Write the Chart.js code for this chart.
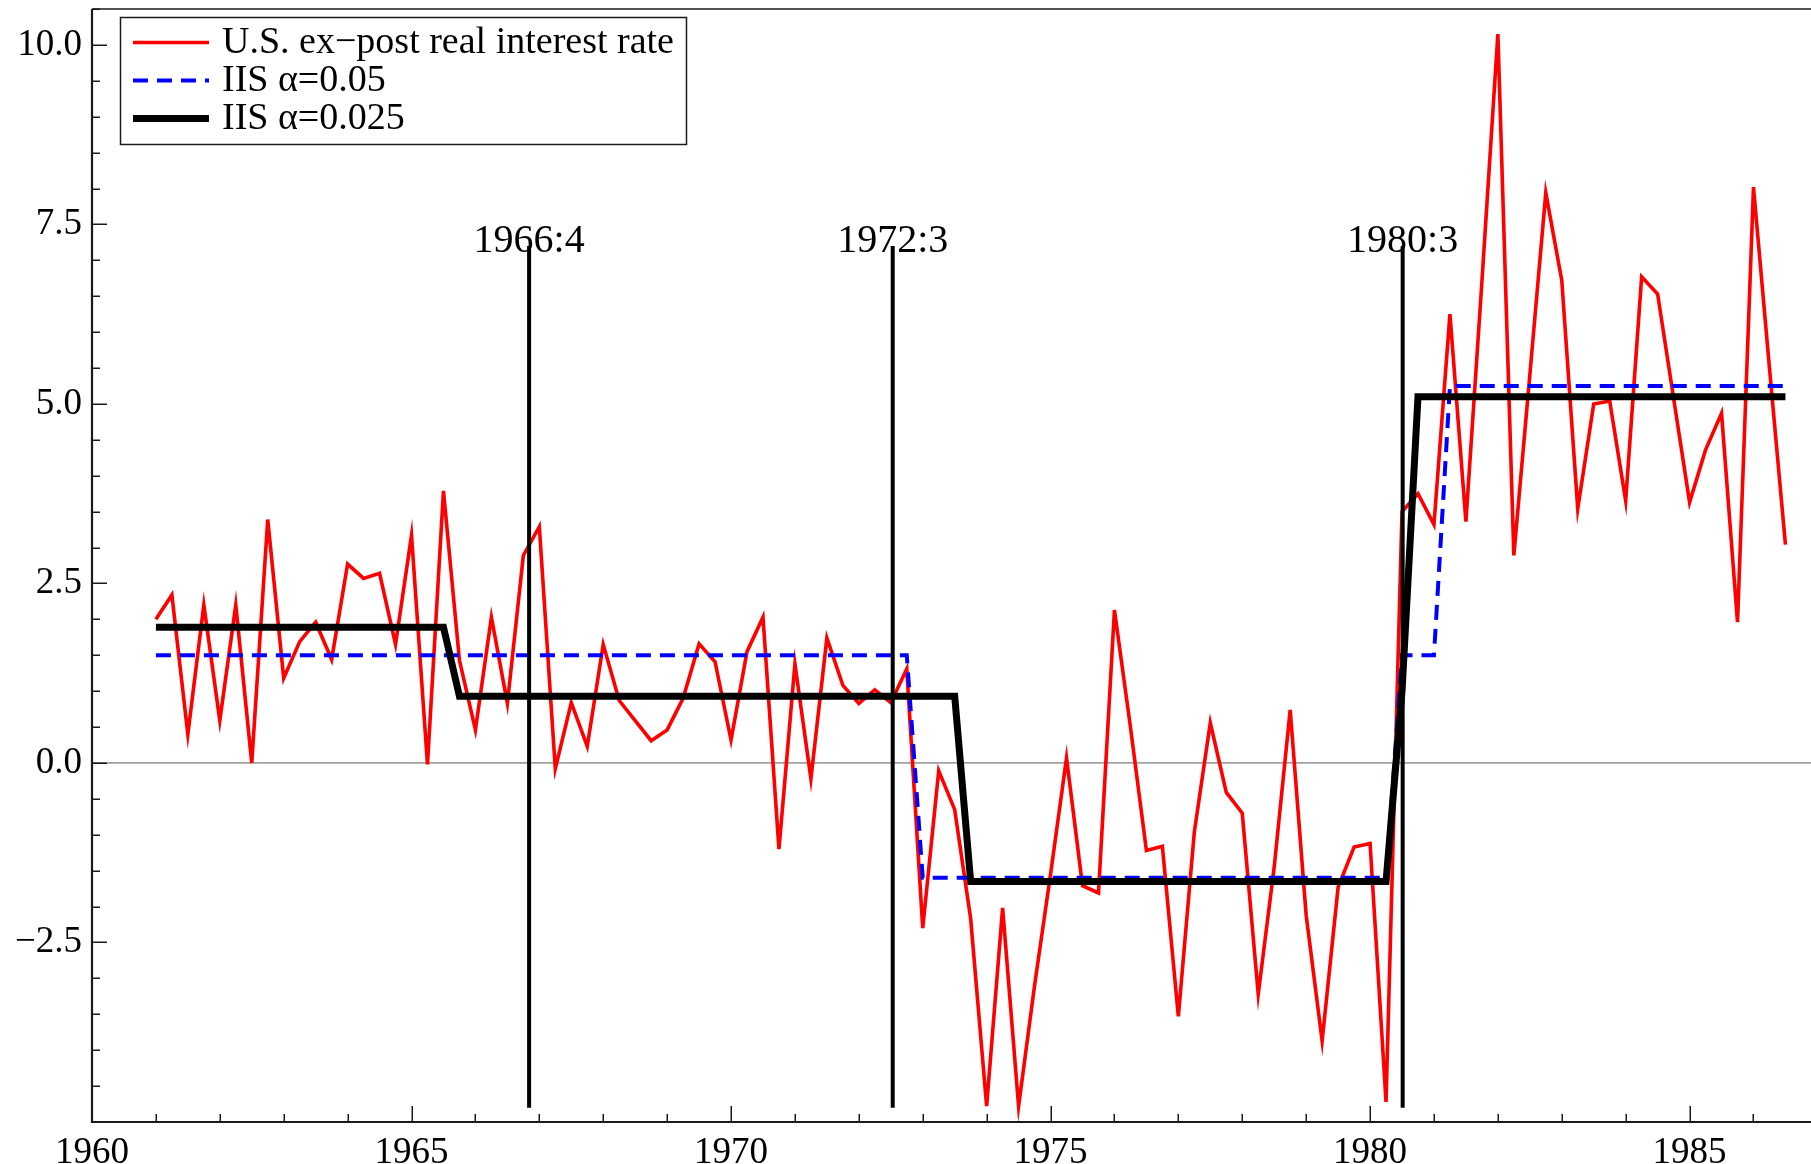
<!DOCTYPE html>
<html>
<head>
<meta charset="utf-8">
<script src="https://cdn.jsdelivr.net/npm/chart.js@4.4.1/dist/chart.umd.min.js"></script>
<style>
  html, body { margin: 0; padding: 0; background: #fff; }
  #wrap { width: 1811px; height: 1164px; }
</style>
</head>
<body>
<div id="wrap"><canvas id="c" width="1811" height="1164"></canvas></div>
<script>
// ---------------- DATA ----------------
const startYear = 1961;          // first observation 1961:1, quarterly
const seriesLabels = ['U.S. ex\u2212post real interest rate', 'IIS \u03b1=0.05', 'IIS \u03b1=0.025'];

const realRate = [
  2.00, 2.34, 0.40, 2.20, 0.59, 2.20, 0.00, 3.39, 1.18, 1.69,
  1.96, 1.44, 2.77, 2.57, 2.64, 1.65, 3.17, -0.02, 3.79, 1.43,
  0.46, 2.03, 0.83, 2.89, 3.29, -0.08, 0.84, 0.23, 1.65, 0.87,
  0.59, 0.31, 0.46, 0.90, 1.66, 1.41, 0.32, 1.55, 2.03, -1.20,
  1.38, -0.22, 1.74, 1.08, 0.83, 1.02, 0.84, 1.31, -2.30, -0.11,
  -0.65, -2.17, -4.78, -2.02, -4.78, -3.10, -1.55, 0.07, -1.71, -1.81,
  2.13, 0.50, -1.22, -1.16, -3.53, -0.96, 0.56, -0.41, -0.70, -3.22,
  -1.45, 0.74, -2.12, -3.87, -1.73, -1.17, -1.12, -4.72, 3.50, 3.75,
  3.32, 6.25, 3.36, 6.70, 10.15, 2.89, 5.40, 7.94, 6.72, 3.54,
  5.00, 5.04, 3.65, 6.77, 6.53, 5.08, 3.63, 4.36, 4.87, 1.96,
  8.02, 5.50, 3.04
];

const iis05 = [
  1.5, 1.5, 1.5, 1.5, 1.5, 1.5, 1.5, 1.5, 1.5, 1.5,
  1.5, 1.5, 1.5, 1.5, 1.5, 1.5, 1.5, 1.5, 1.5, 1.5,
  1.5, 1.5, 1.5, 1.5, 1.5, 1.5, 1.5, 1.5, 1.5, 1.5,
  1.5, 1.5, 1.5, 1.5, 1.5, 1.5, 1.5, 1.5, 1.5, 1.5,
  1.5, 1.5, 1.5, 1.5, 1.5, 1.5, 1.5, 1.5, -1.6, -1.6,
  -1.6, -1.6, -1.6, -1.6, -1.6, -1.6, -1.6, -1.6, -1.6, -1.6,
  -1.6, -1.6, -1.6, -1.6, -1.6, -1.6, -1.6, -1.6, -1.6, -1.6,
  -1.6, -1.6, -1.6, -1.6, -1.6, -1.6, -1.6, -1.6, 1.5, 1.5,
  1.5, 5.25, 5.25, 5.25, 5.25, 5.25, 5.25, 5.25, 5.25, 5.25,
  5.25, 5.25, 5.25, 5.25, 5.25, 5.25, 5.25, 5.25, 5.25, 5.25,
  5.25, 5.25, 5.25
];

const iis025 = [
  1.89, 1.89, 1.89, 1.89, 1.89, 1.89, 1.89, 1.89, 1.89, 1.89,
  1.89, 1.89, 1.89, 1.89, 1.89, 1.89, 1.89, 1.89, 1.89, 0.93,
  0.93, 0.93, 0.93, 0.93, 0.93, 0.93, 0.93, 0.93, 0.93, 0.93,
  0.93, 0.93, 0.93, 0.93, 0.93, 0.93, 0.93, 0.93, 0.93, 0.93,
  0.93, 0.93, 0.93, 0.93, 0.93, 0.93, 0.93, 0.93, 0.93, 0.93,
  0.93, -1.65, -1.65, -1.65, -1.65, -1.65, -1.65, -1.65, -1.65, -1.65,
  -1.65, -1.65, -1.65, -1.65, -1.65, -1.65, -1.65, -1.65, -1.65, -1.65,
  -1.65, -1.65, -1.65, -1.65, -1.65, -1.65, -1.65, -1.65, 1.00, 5.10,
  5.10, 5.10, 5.10, 5.10, 5.10, 5.10, 5.10, 5.10, 5.10, 5.10,
  5.10, 5.10, 5.10, 5.10, 5.10, 5.10, 5.10, 5.10, 5.10, 5.10,
  5.10, 5.10, 5.10
];

// break dates (vertical lines) and their labels
const breakDates  = [1966.84, 1972.53, 1980.51];
const breakLabels = ['1966:4', '1972:3', '1980:3'];
const breakLow = -4.8, breakHigh = 7.2, breakLabelLevel = 7.12;

// axes
const xMin = 1960, xMax = 1986.9, yMin = -5, yMax = 10.5;
const xTickValues = [1960, 1965, 1970, 1975, 1980, 1985];
const xTickLabels = ['1960', '1965', '1970', '1975', '1980', '1985'];
const yTickValues = [-2.5, 0, 2.5, 5, 7.5, 10];
const yTickLabels = ['\u22122.5', '0.0', '2.5', '5.0', '7.5', '10.0'];
const xMinorStep = 1, yMinorStep = 0.5;

// ---------------- BUILD ----------------
const FONT = "'Liberation Serif', 'Times New Roman', serif";
const toPts = arr => arr.map((v, i) => ({ x: startYear + i / 4, y: v }));

const datasets = [
  { label: seriesLabels[0], data: toPts(realRate), borderColor: '#ff0000', borderWidth: 3.6,
    pointRadius: 0, tension: 0, order: 4, inLegend: true, borderJoinStyle: 'miter' },
  { label: seriesLabels[1], data: toPts(iis05), borderColor: '#0000ff', borderWidth: 4,
    borderDash: [15, 9], pointRadius: 0, tension: 0, order: 3, inLegend: true, borderJoinStyle: 'miter' },
  { label: seriesLabels[2], data: toPts(iis025), borderColor: '#000000', borderWidth: 7,
    pointRadius: 0, tension: 0, order: 1, inLegend: true, borderJoinStyle: 'miter' }
];
breakDates.forEach((d, k) => {
  datasets.push({ label: breakLabels[k], data: [{ x: d, y: breakLow }, { x: d, y: breakHigh }],
    borderColor: '#000', borderWidth: 4, pointRadius: 0, order: 2, breakLabel: breakLabels[k],
    borderCapStyle: 'butt' });
});

const noPad = s => { s.paddingTop = 0; s.paddingBottom = 0; s.paddingLeft = 0; s.paddingRight = 0; };

const framePlugin = {
  id: 'frame',
  beforeDatasetsDraw(chart) {
    const { ctx, chartArea: a, scales: { y } } = chart;
    ctx.save();
    ctx.strokeStyle = '#a0a0a0';
    ctx.lineWidth = 1.8;
    const y0 = y.getPixelForValue(0);
    ctx.beginPath(); ctx.moveTo(a.left, y0); ctx.lineTo(a.right, y0); ctx.stroke();
    ctx.restore();
  },
  afterDatasetsDraw(chart) {
    const { ctx, chartArea: a, scales: { x, y } } = chart;
    ctx.save();
    ctx.strokeStyle = '#1a1a1a';
    ctx.lineWidth = 1.5;
    ctx.beginPath(); ctx.moveTo(a.left, a.top); ctx.lineTo(a.right, a.top); ctx.stroke();
    ctx.lineWidth = 2.2;
    ctx.beginPath(); ctx.moveTo(a.left, a.top); ctx.lineTo(a.left, a.bottom); ctx.lineTo(a.right, a.bottom); ctx.stroke();
    ctx.lineWidth = 1.5;
    for (let v = yMin; v <= yMax + 1e-9; v += yMinorStep) {
      const p = Math.round(y.getPixelForValue(v)) + 0.25;
      const major = yTickValues.some(t => Math.abs(t - v) < 1e-6);
      ctx.beginPath(); ctx.moveTo(a.left, p); ctx.lineTo(a.left + (major ? 15 : 8), p); ctx.stroke();
    }
    for (let v = xMin; v <= xMax + 1e-9; v += xMinorStep) {
      const p = Math.round(x.getPixelForValue(v)) + 0.25;
      const major = xTickValues.some(t => Math.abs(t - v) < 1e-6);
      ctx.beginPath(); ctx.moveTo(p, a.bottom); ctx.lineTo(p, a.bottom - (major ? 16 : 8)); ctx.stroke();
    }
    ctx.fillStyle = '#000';
    ctx.font = '40px ' + FONT;
    ctx.textAlign = 'center';
    ctx.textBaseline = 'alphabetic';
    chart.data.datasets.forEach(ds => {
      if (!ds.breakLabel) return;
      const px = x.getPixelForValue(ds.data[0].x);
      const py = y.getPixelForValue(breakLabelLevel);
      ctx.fillText(ds.breakLabel, px, py);
    });
    ctx.restore();
  },
  afterDraw(chart) {
    const { ctx } = chart;
    const entries = chart.data.datasets.filter(d => d.inLegend);
    ctx.save();
    const bx = 120.5, by = 17.5, bw = 566, bh = 127;
    ctx.fillStyle = '#fff';
    ctx.fillRect(bx, by, bw, bh);
    ctx.strokeStyle = '#1a1a1a';
    ctx.lineWidth = 1.5;
    ctx.strokeRect(bx, by, bw, bh);
    ctx.font = '38px ' + FONT;
    ctx.textBaseline = 'middle';
    ctx.textAlign = 'left';
    entries.forEach((d, i) => {
      const ry = 42.5 + 38 * i;
      ctx.strokeStyle = d.borderColor;
      ctx.lineWidth = d.borderWidth;
      ctx.setLineDash(d.borderDash || []);
      ctx.beginPath(); ctx.moveTo(133, ry); ctx.lineTo(209, ry); ctx.stroke();
      ctx.setLineDash([]);
      ctx.fillStyle = '#000';
      ctx.fillText(d.label, 222, ry + 1);
    });
    ctx.restore();
  }
};

new Chart(document.getElementById('c'), {
  type: 'line',
  data: { datasets },
  options: {
    responsive: false,
    animation: false,
    devicePixelRatio: 1,
    layout: { padding: { top: 9, right: 0, left: 0, bottom: 0 } },
    plugins: { legend: { display: false }, tooltip: { enabled: false } },
    scales: {
      x: {
        type: 'linear', min: xMin, max: xMax,
        afterBuildTicks: s => { s.ticks = xTickValues.map(v => ({ value: v })); },
        afterFit: s => { s.height = 42; noPad(s); },
        ticks: {
          callback: v => xTickLabels[xTickValues.indexOf(v)],
          font: { family: FONT, size: 37 }, color: '#000',
          maxRotation: 0, autoSkip: false, padding: 9
        },
        grid: { display: false, drawTicks: false },
        border: { display: false }
      },
      y: {
        type: 'linear', min: yMin, max: yMax,
        afterBuildTicks: s => { s.ticks = yTickValues.map(v => ({ value: v })); },
        afterFit: s => { s.width = 92; noPad(s); },
        ticks: {
          callback: v => yTickLabels[yTickValues.indexOf(v)],
          font: { family: FONT, size: 37 }, color: '#000', padding: 10
        },
        grid: { display: false, drawTicks: false },
        border: { display: false }
      }
    }
  },
  plugins: [framePlugin]
});
</script>
</body>
</html>
